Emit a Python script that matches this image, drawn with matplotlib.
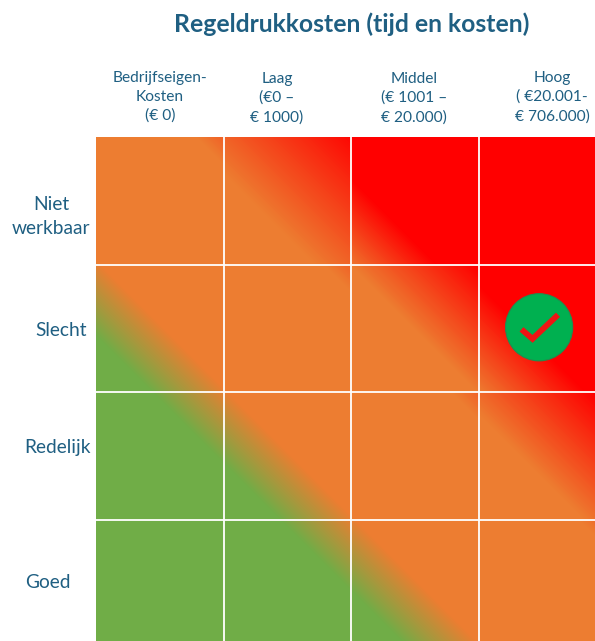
import numpy as np
import matplotlib
matplotlib.use("Agg")
import matplotlib.pyplot as plt
from matplotlib.colors import LinearSegmentedColormap
from matplotlib.patches import Circle

Title = "Regeldrukkosten (tijd en kosten)"
col_labels = ["Bedrijfseigen-\nKosten\n(€ 0)", "Laag\n(€0 –\n€ 1000)",
              "Middel\n(€ 1001 –\n€ 20.000)", "Hoog\n( €20.001-\n€ 706.000)"]
row_labels = ["Niet\nwerkbaar", "Slecht", "Redelijk", "Goed"]
# positie van het vinkje: kolom Hoog, rij Slecht
check_col = 3
check_row = 1

# plaats van de labels in pixels
col_label_x = [160, 277, 414, 552]
col_label_y = [97, 98, 98, 97]
row_label_x = [51, 61, 57, 48]
row_label_y = [216, 330, 448, 582]

# verloop oranje naar rood per cel: kolom, rij, begin, eind (score = kolom - rij)
red_cols = [1, 2, 2, 3, 3]
red_rows = [0, 0, 1, 1, 2]
red_start = [0.72, 0.95, 0.99, 1.0, 0.83]
red_end = [2.08, 1.68, 1.98, 1.85, 1.90]

Green = "#70AD47"
Orange = "#ED7D31"
Red = "#FF0000"
Text_color = "#1F5F82"

W, H = 595, 641
left, top = 96, 137
cell = 127.7  # celgrootte in pixels

plt.rcParams['font.family'] = ['Lato', 'DejaVu Sans']

fig = plt.figure(figsize=(W / 100, H / 100), dpi=100)
ax = fig.add_axes([left / W, 0, (W - left) / W, (H - top) / H])
xmax = (W - left) / cell
ymax = (H - top) / cell
ax.set_xlim(0, xmax)
ax.set_ylim(ymax, 0)
ax.axis("off")


def px(x):
    return (x - left) / cell


def py(y):
    return (y - top) / cell


# diagonale verloop: score = kolom - rij
xx, yy = np.meshgrid(np.linspace(0, xmax, W - left), np.linspace(0, ymax, H - top))
score = xx - yy
lo, hi = -2.0, 2.0
orange_lo, orange_hi = -0.97, 0.79
red_lo = 1.73
for c, r, s, e in zip(red_cols, red_rows, red_start, red_end):
    mask = (xx >= c) & (xx < c + 1) & (yy >= r) & (yy < r + 1)
    score[mask] = orange_hi + (score[mask] - s) / (e - s) * (red_lo - orange_hi)
score = np.maximum(score, -2.0)
stops = [(0, Green), ((-1.56 - lo) / (hi - lo), Green), ((orange_lo - lo) / (hi - lo), Orange),
         ((orange_hi - lo) / (hi - lo), Orange), ((red_lo - lo) / (hi - lo), Red), (1, Red)]
cmap = LinearSegmentedColormap.from_list("risk", stops, N=512)
ax.imshow(score, cmap=cmap, vmin=lo, vmax=hi, extent=(0, xmax, ymax, 0), aspect="auto",
          interpolation="nearest")

for i in range(1, 4):
    ax.axvline(i, color="white", lw=1.3)
    ax.axhline(i, color="white", lw=1.3)

for i, lab in enumerate(col_labels):
    ax.text(px(col_label_x[i]), py(col_label_y[i]), lab, ha="center", va="center", fontsize=11.2,
            color=Text_color, linespacing=1.45, clip_on=False)
for i, lab in enumerate(row_labels):
    ax.text(px(row_label_x[i]), py(row_label_y[i]), lab, ha="center", va="center", fontsize=13.8,
            color=Text_color, linespacing=1.5, clip_on=False)
fig.text(351.5 / W, 1 - 24 / H, Title, ha="center", va="center", fontsize=17.8, fontweight="bold", color=Text_color)

# vinkje
cx, cy = check_col + 0.47, check_row + 0.49
ax.add_patch(Circle((cx, cy), 0.263, fc="#00B050", ec="#1E8E50", lw=0.8, zorder=3))
ax.plot([cx - 0.138, cx - 0.052, cx + 0.148], [cy + 0.016, cy + 0.091, cy - 0.098], color="#F01414",
        lw=4.2, solid_joinstyle="miter", solid_capstyle="butt", zorder=4)

fig.savefig("out.png", dpi=100)
